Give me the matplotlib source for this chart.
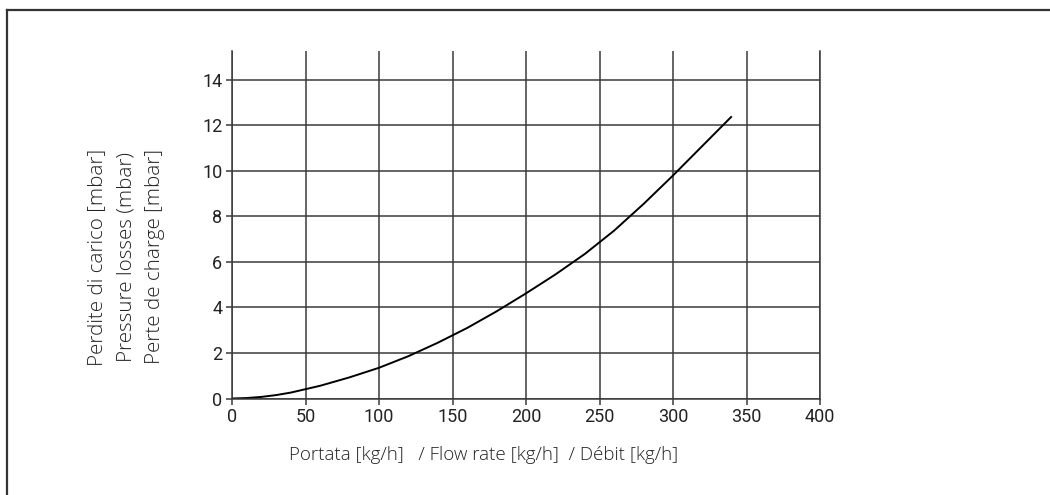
import matplotlib
matplotlib.use("Agg")
import matplotlib.pyplot as plt
from matplotlib.lines import Line2D

# Data
flow = [0, 10, 20, 30, 40, 60, 80, 100, 120, 140, 160, 180, 200, 220, 240, 260, 280, 300, 320, 340]
loss = [0, 0.02, 0.07, 0.15, 0.26, 0.56, 0.93, 1.35, 1.86, 2.45, 3.1, 3.83, 4.62, 5.45, 6.35, 7.38,
        8.55, 9.8, 11.1, 12.4]
xticks = [0, 50, 100, 150, 200, 250, 300, 350, 400]
yticks = [0, 2, 4, 6, 8, 10, 12, 14]
ylabel_lines = ["Perdite di carico [mbar]", "Pressure losses (mbar)", "Perte de charge [mbar]"]
xlabel_text = "Portata [kg/h]   / Flow rate [kg/h]  / Débit [kg/h]"

W, H = 1050, 495
fig = plt.figure(figsize=(W / 100, H / 100), dpi=100)
ax = fig.add_axes([232 / W, 1 - 398.5 / H, (820 - 232) / W, (398.5 - 51) / H])

grid_c = "#3a3a3a"
ax.set_xlim(0, 400)
ax.set_ylim(0, 15.27)
ax.set_xticks(xticks)
ax.set_yticks(yticks)
ax.grid(True, color=grid_c, lw=1.1)
ax.set_axisbelow(True)
for s in ["left", "bottom", "right"]:
    ax.spines[s].set_color(grid_c)
    ax.spines[s].set_linewidth(1.1)
ax.spines["top"].set_visible(False)
ax.tick_params(axis="both", length=4, width=1.1, color=grid_c, pad=3,
               labelsize=13, labelcolor="#222222")
for lab in ax.get_xticklabels() + ax.get_yticklabels():
    lab.set_fontfamily("Roboto")

ax.plot(flow, loss, color="black", lw=1.4, solid_capstyle="butt", solid_joinstyle="round")

xl_font = dict(family="Open Sans", weight="light", size=13.5, color="#222222")
yl_font = dict(family="Open Sans", weight="light", size=14.8, color="#222222")
xs = [97, 126, 155]
for txt, xp in zip(ylabel_lines, xs):
    fig.text(xp / W, 1 - 257 / H, txt, rotation=90, ha="center", va="center", **yl_font)
fig.text(484 / W, 1 - 455 / H, xlabel_text, ha="center", va="center", **xl_font)

# outer frame (top and left)
fig.add_artist(Line2D([6.5 / W, 1.0], [1 - 10 / H, 1 - 10 / H], transform=fig.transFigure,
                      color="#333333", lw=1.6))
fig.add_artist(Line2D([6.5 / W, 6.5 / W], [1 - 10 / H, 0.0], transform=fig.transFigure,
                      color="#333333", lw=1.6))

fig.savefig("out.png", dpi=100, facecolor="white")
